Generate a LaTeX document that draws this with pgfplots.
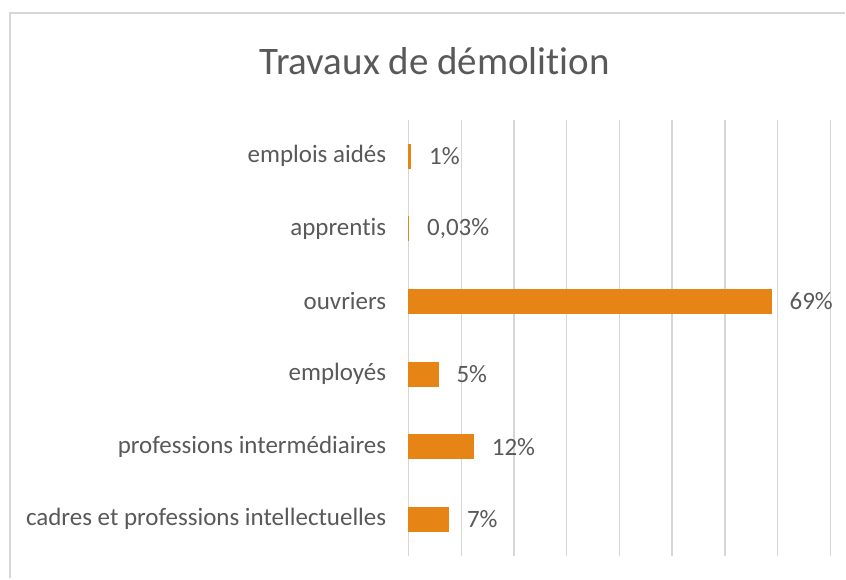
\documentclass[border=0pt]{standalone}
\usepackage{fontspec}
\setmainfont{Carlito}[Ligatures=NoCommon]
\usepackage{pgfplots}
\usepackage{pgfplotstable}
\pgfplotsset{compat=1.18}
\definecolor{barc}{RGB}{230,132,22}
\definecolor{txt}{RGB}{89,89,89}
\definecolor{grd}{RGB}{214,214,214}
\pgfplotstableread{
x y lab
7.6 0 7\%
12.3 1 12\%
5.6 2 5\%
68.8 3 69\%
0.03 4 0,03\%
0.4 5 1\%
}\datatab
\begin{document}
\begin{tikzpicture}[x=1pt,y=1pt]
\fill[white] (0,0) rectangle (846,579);
\draw[grd, line width=1.5pt] (10,0) -- (10,566) -- (846,566);
\node[anchor=base, text=txt, inner sep=0pt, font=\fontsize{39}{46}\selectfont] at (435,504) {Travaux de démolition};
\begin{axis}[at={(409pt,23pt)}, anchor=south west, scale only axis, width=422pt, height=436pt,
 xbar, bar width=24pt, xmin=0, xmax=80, ymin=-0.5, ymax=5.5,
 xtick={0,10,...,80}, xticklabels={}, xmajorgrids, grid style={grd, line width=1.4pt},
 ytick={0,...,5}, yticklabels={cadres et professions intellectuelles, professions intermédiaires, employés, ouvriers, apprentis, emplois aidés},
 yticklabel style={font=\fontsize{25}{30}\selectfont, text=txt, inner sep=0pt, xshift=-18pt},
 axis line style={draw=none}, major tick style={draw=none},
 nodes near coords, point meta=explicit symbolic,
 every node near coord/.append style={font=\fontsize{25}{30}\selectfont, text=txt, anchor=west, inner sep=0pt, xshift=18pt},
 clip=false]
\addplot[fill=barc, draw=barc, line width=0.8pt] table[x=x, y=y, meta=lab] {\datatab};
\end{axis}
\end{tikzpicture}
\end{document}
